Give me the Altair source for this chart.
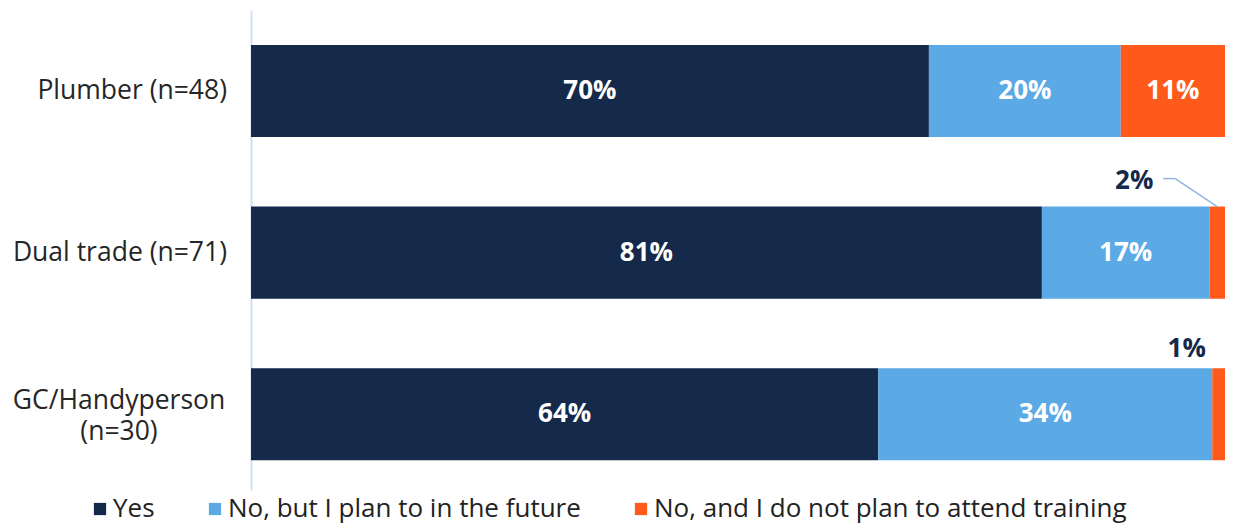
import altair as alt
import pandas as pd

categories = ["Plumber (n=48)", "Dual trade (n=71)", "GC/Handyperson\n(n=30)"]
responses = ["Yes", "No, but I plan to in the future", "No, and I do not plan to attend training"]
yes_vals = [69.6, 81.2, 64.4]
plan_vals = [19.7, 17.2, 34.3]
no_vals = [10.7, 1.6, 1.3]
colors = ["#15294b", "#5ba9e5", "#ff5a1b"]

rows = []
for i, c in enumerate(categories):
    start = 0.0
    for j, (r, vals) in enumerate(zip(responses, [yes_vals, plan_vals, no_vals])):
        v = vals[i]
        rows.append(dict(cat=c, ci=i, resp=r, ri=j, value=v, start=start, end=start + v,
                         mid=start + v / 2, label=f"{round(v)}%"))
        start += v
df = pd.DataFrame(rows)
cat_df = pd.DataFrame({"cat": categories, "ci": list(range(len(categories)))})

FONT = "Open Sans"
yscale = alt.Scale(domain=categories, paddingInner=0.43, paddingOuter=0.2, align=0.54)
xscale = alt.Scale(domain=[0, 100], nice=False, zero=True)

Y = alt.Y("cat:N", sort=categories, scale=yscale,
          axis=alt.Axis(labels=False, ticks=False, title=None, grid=False,
                        domainColor="#d3dff3", domainWidth=2))

base = alt.Chart(df)

bars = base.mark_bar().encode(
    x=alt.X("start:Q", scale=xscale, axis=None),
    x2="end:Q",
    y=Y,
    color=alt.Color("resp:N", scale=alt.Scale(domain=responses, range=colors),
                    legend=alt.Legend(title=None, orient="none", legendX=-164, legendY=486,
                                      direction="horizontal", columns=3, padding=0,
                                      symbolType="square", symbolSize=150,
                                      symbolStrokeWidth=0, symbolOpacity=1,
                                      labelFont=FONT, labelFontSize=26, labelColor="#222222",
                                      labelOffset=0, labelLimit=0, columnPadding=47)),
)

inside = base.transform_filter("datum.value >= 5").mark_text(
    color="white", fontWeight="bold", fontSize=26, font=FONT, baseline="middle"
).encode(x=alt.X("mid:Q", scale=xscale), y=Y, text="label:N")

dual_no = base.transform_filter("datum.ci == 1 && datum.ri == 2")
gc_no = base.transform_filter("datum.ci == 2 && datum.ri == 2")

lbl2 = dual_no.mark_text(color="#15294b", fontWeight="bold", fontSize=26, font=FONT,
                         baseline="middle", dx=-83, dy=-72).encode(
    x=alt.X("mid:Q", scale=xscale), y=Y, text="label:N")
lbl1 = gc_no.mark_text(color="#15294b", fontWeight="bold", fontSize=26, font=FONT,
                       baseline="middle", dx=-32, dy=-65).encode(
    x=alt.X("mid:Q", scale=xscale), y=Y, text="label:N")

lead_h = dual_no.mark_rule(color="#8fb4e3", strokeWidth=1.5, xOffset=-54, x2Offset=-42,
                           yOffset=-74).encode(
    x=alt.X("mid:Q", scale=xscale), x2="mid:Q", y=Y)
lead_d = dual_no.mark_rule(color="#8fb4e3", strokeWidth=1.5, xOffset=-42, x2Offset=0,
                           yOffset=-74, y2Offset=-46).encode(
    x=alt.X("mid:Q", scale=xscale), x2="mid:Q", y=Y, y2="cat")

cat_base = alt.Chart(cat_df)
ylab_right = cat_base.transform_filter("datum.ci != 2").mark_text(
    align="right", baseline="middle", fontSize=26.5, font=FONT, color="#262626"
).encode(x=alt.value(-24), y=Y, text="cat:N")
ylab_center = cat_base.transform_filter("datum.ci == 2").mark_text(
    align="center", baseline="middle", fontSize=26.5, font=FONT, color="#262626",
    lineBreak="\n", lineHeight=31, dy=-13
).encode(x=alt.value(-132), y=Y, text="cat:N")

chart = alt.layer(bars, inside, lbl2, lbl1, lead_h, lead_d, ylab_right, ylab_center).properties(
    width=974, height=480,
    autosize=alt.AutoSizeParams(type="none"),
    padding={"left": 243, "top": 2, "right": 0, "bottom": 37},
).configure_view(stroke=None)

chart.save("out.html", embed_options={"renderer": "svg", "actions": False})
